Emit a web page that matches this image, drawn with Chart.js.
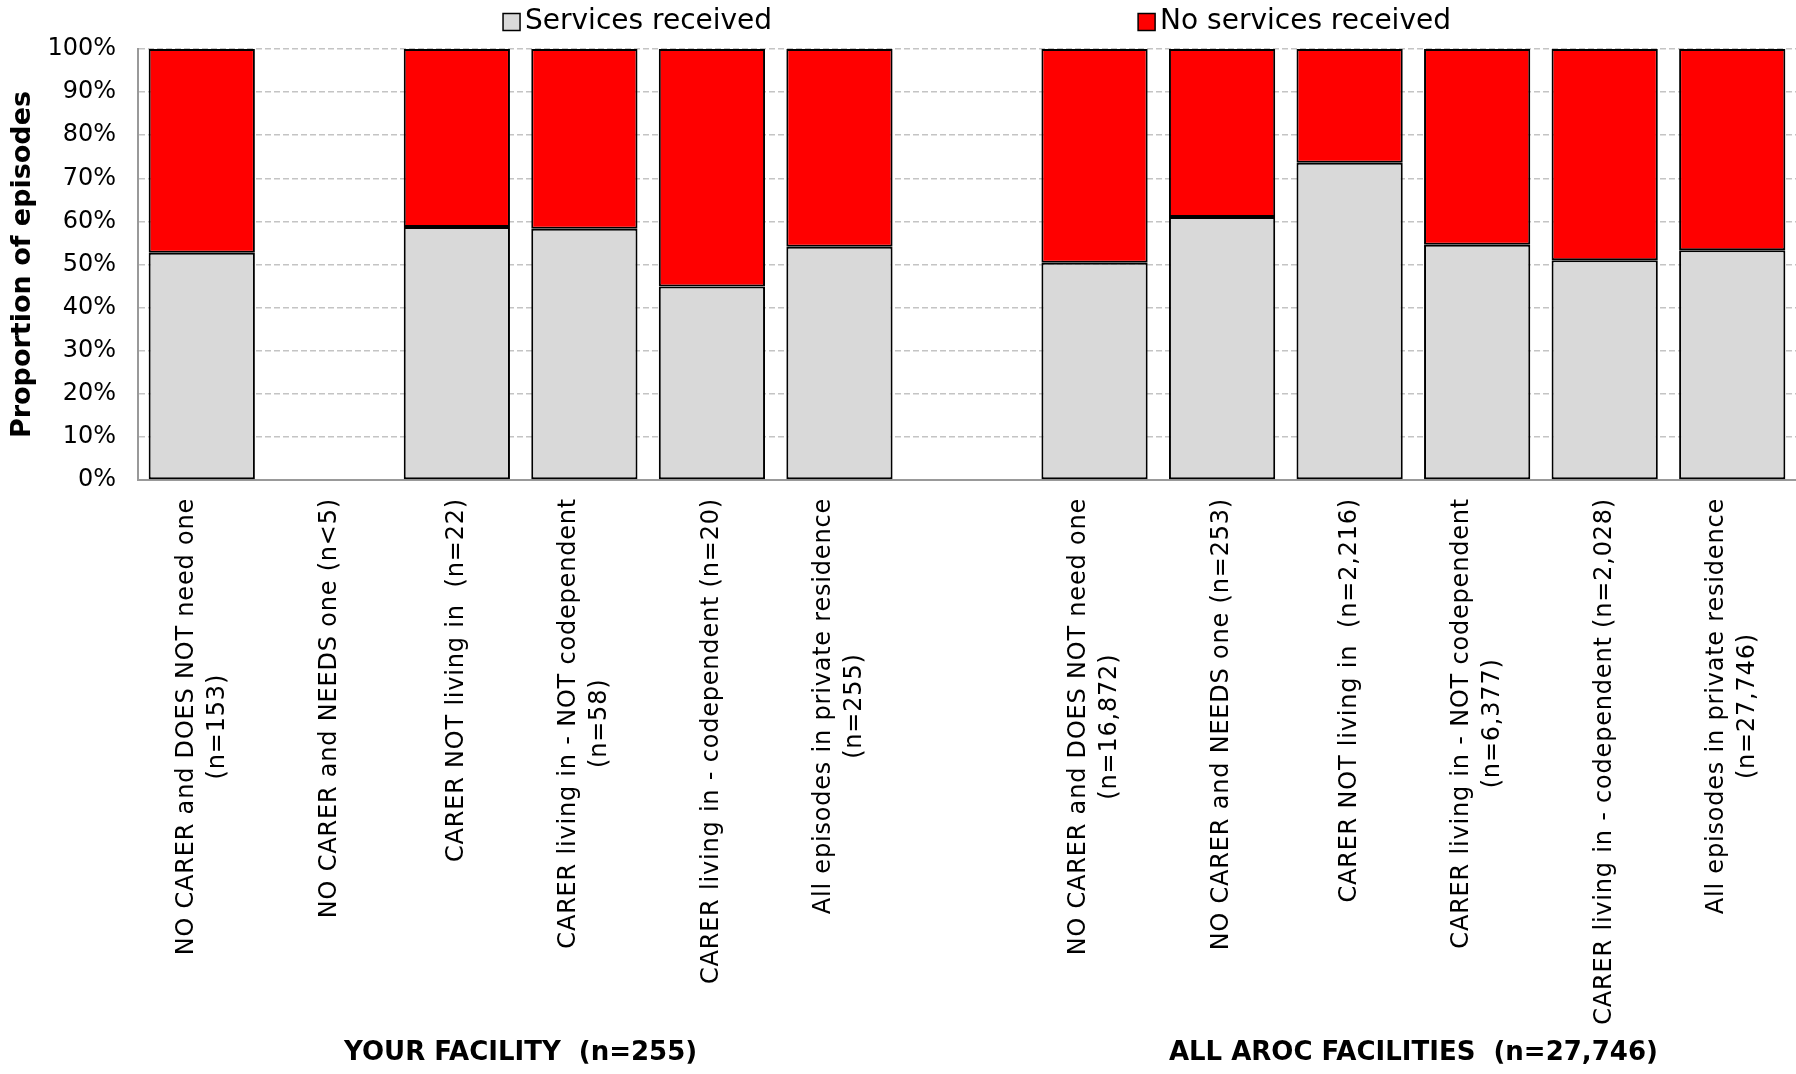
<!DOCTYPE html>
<html>
<head>
<meta charset="utf-8">
<script src="https://cdn.jsdelivr.net/npm/chart.js@4/dist/chart.umd.min.js"></script>
<style>
html, body { margin: 0; padding: 0; background: #ffffff; }
#wrap { width: 1796px; height: 1074px; }
</style>
</head>
<body>
<div id="wrap"><canvas id="c" width="1796" height="1074"></canvas></div>
<script>
// ---------- DATA ----------
const categories = [
  ["NO CARER and DOES NOT need one", "(n=153)"],
  ["NO CARER and NEEDS one (n<5)"],
  ["CARER NOT living in  (n=22)"],
  ["CARER living in - NOT codependent", "(n=58)"],
  ["CARER living in - codependent (n=20)"],
  ["All episodes in private residence", "(n=255)"],
  [""],
  ["NO CARER and DOES NOT need one", "(n=16,872)"],
  ["NO CARER and NEEDS one (n=253)"],
  ["CARER NOT living in  (n=2,216)"],
  ["CARER living in - NOT codependent", "(n=6,377)"],
  ["CARER living in - codependent (n=2,028)"],
  ["All episodes in private residence", "(n=27,746)"]
];
const servicesReceived   = [52.7, null, 58.7, 58.3, 44.9, 54.1, null, 50.4, 61.0, 73.6, 54.6, 51.0, 53.3];
const noServicesReceived = [47.3, null, 41.3, 41.7, 55.1, 45.9, null, 49.6, 39.0, 26.4, 45.4, 49.0, 46.7];
const seriesNames  = ["Services received", "No services received"];
const seriesColors = ["#d9d9d9", "#ff0000"];
const yAxisTitle   = "Proportion of episodes";
const groupLabels  = ["YOUR FACILITY  (n=255)", "ALL AROC FACILITIES  (n=27,746)"];
const groupRanges  = [[0, 5], [7, 12]];

const FONT = '"DejaVu Sans", Verdana, sans-serif';

// ---------- PLUGINS ----------
const topLegend = {
  id: 'topLegend',
  afterDraw(chart) {
    const ctx = chart.ctx;
    const ca = chart.chartArea;
    ctx.save();
    ctx.font = '28px ' + FONT;
    ctx.textBaseline = 'middle';
    ctx.textAlign = 'left';
    const box = 17, gapBoxText = 5, gapItems = 366;
    const widths = seriesNames.map(n => box + gapBoxText + ctx.measureText(n).width);
    const total = widths[0] + gapItems + widths[1];
    let x = (ca.left + ca.right) / 2 - total / 2 + 10;
    const yc = 22;
    seriesNames.forEach((name, i) => {
      ctx.fillStyle = seriesColors[i];
      ctx.fillRect(x, yc - box / 2, box, box);
      ctx.lineWidth = 1.5;
      ctx.strokeStyle = '#000';
      ctx.strokeRect(x, yc - box / 2, box, box);
      ctx.fillStyle = '#000';
      ctx.fillText(name, x + box + gapBoxText, yc);
      x += widths[i] + gapItems;
    });
    ctx.restore();
  }
};

const rotatedXLabels = {
  id: 'rotatedXLabels',
  afterDraw(chart) {
    const ctx = chart.ctx;
    const xs = chart.scales.x;
    const top = chart.chartArea.bottom + 18;
    const lineH = 31;
    ctx.save();
    ctx.font = '24px ' + FONT;
    try { ctx.letterSpacing = '0.8px'; } catch (e) {}
    ctx.fillStyle = '#000';
    ctx.textAlign = 'center';
    ctx.textBaseline = 'middle';
    categories.forEach((lines, i) => {
      if (!lines[0]) return;
      const x = xs.getPixelForValue(i);
      const maxW = Math.max(...lines.map(l => ctx.measureText(l).width));
      ctx.save();
      ctx.translate(x, top);
      ctx.rotate(-Math.PI / 2);
      const n = lines.length;
      lines.forEach((l, k) => {
        const off = (k - (n - 1) / 2) * lineH;
        ctx.fillText(l, -maxW / 2, off);
      });
      ctx.restore();
    });
    ctx.restore();
  }
};

const groupTitles = {
  id: 'groupTitles',
  afterDraw(chart) {
    const ctx = chart.ctx;
    const xs = chart.scales.x;
    ctx.save();
    ctx.font = 'bold 26px ' + FONT;
    ctx.fillStyle = '#000';
    ctx.textAlign = 'center';
    ctx.textBaseline = 'middle';
    groupLabels.forEach((g, i) => {
      const [a, b] = groupRanges[i];
      const cx = (xs.getPixelForValue(a) + xs.getPixelForValue(b)) / 2;
      ctx.fillText(g, cx, 1053);
    });
    ctx.restore();
  }
};

// ---------- CHART ----------
new Chart(document.getElementById('c'), {
  type: 'bar',
  data: {
    labels: categories,
    datasets: [
      {
        label: seriesNames[0],
        data: servicesReceived,
        backgroundColor: seriesColors[0],
        borderColor: '#000000',
        borderWidth: 2,
        borderSkipped: false
      },
      {
        label: seriesNames[1],
        data: noServicesReceived,
        backgroundColor: seriesColors[1],
        borderColor: '#000000',
        borderWidth: 2,
        borderSkipped: false
      }
    ]
  },
  options: {
    responsive: false,
    animation: false,
    devicePixelRatio: 1,
    layout: { padding: { top: 49, right: 0, bottom: 0, left: 0 } },
    datasets: { bar: { barPercentage: 0.833, categoryPercentage: 1.0 } },
    plugins: {
      legend: { display: false },
      tooltip: { enabled: false }
    },
    scales: {
      x: {
        stacked: true,
        grid: { display: false },
        border: { display: true, color: '#999999', width: 2 },
        ticks: { display: false },
        afterFit(scale) { scale.height = 594; }
      },
      y: {
        stacked: true,
        min: 0,
        max: 100,
        ticks: {
          stepSize: 10,
          padding: 22,
          color: '#000',
          font: { family: FONT, size: 24 },
          callback: v => v + '%'
        },
        grid: {
          color: '#c4c4c4',
          lineWidth: 1.5,
          drawTicks: false
        },
        border: { display: true, color: '#999999', width: 2, dash: [6, 3] },
        title: {
          display: true,
          text: yAxisTitle,
          color: '#000',
          font: { family: FONT, size: 27, weight: 'bold' },
          padding: { top: 7, bottom: 0 }
        },
        afterFit(scale) { scale.width = 138; }
      }
    }
  },
  plugins: [topLegend, rotatedXLabels, groupTitles]
});
</script>
</body>
</html>
